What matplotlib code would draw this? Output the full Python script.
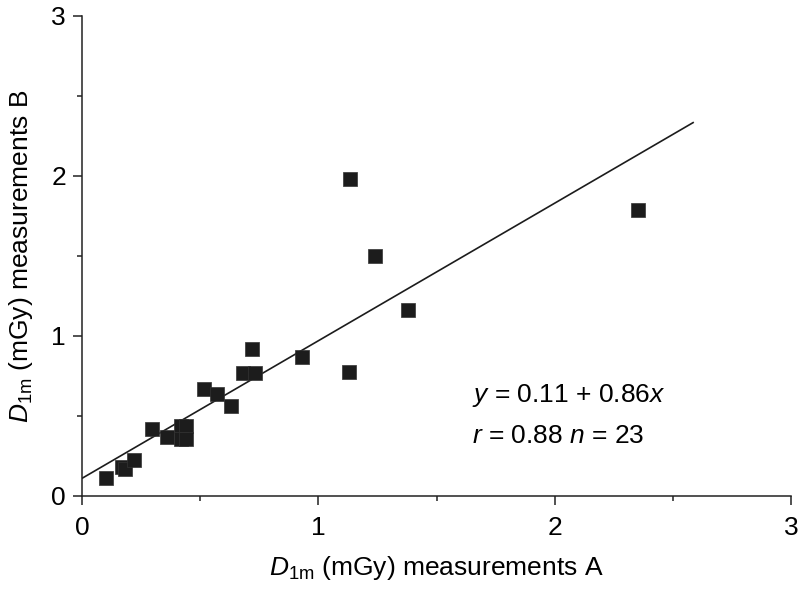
import matplotlib
matplotlib.use("Agg")
from matplotlib import pyplot as plt
from matplotlib.ticker import MultipleLocator

meas_a = [0.10, 0.17, 0.18, 0.22, 0.295, 0.36, 0.42, 0.44, 0.42, 0.44,
          0.515, 0.57, 0.63, 0.68, 0.72, 0.73, 0.93,
          1.135, 1.24, 1.38, 1.13, 2.35]
meas_b = [0.11, 0.18, 0.17, 0.225, 0.42, 0.37, 0.44, 0.44, 0.355, 0.355,
          0.67, 0.64, 0.565, 0.77, 0.92, 0.77, 0.87,
          1.98, 1.50, 1.16, 0.775, 1.79]

# regression y = 0.11 + 0.86x
intercept = 0.11
slope = 0.86
fit_x = [0.0, 2.585]

ticks = [0, 1, 2, 3]

plt.rcParams['font.family'] = ['Liberation Sans', 'DejaVu Sans']
plt.rcParams['mathtext.fontset'] = 'custom'
plt.rcParams['mathtext.rm'] = 'Liberation Sans'
plt.rcParams['mathtext.it'] = 'Liberation Sans:italic'

fig = plt.figure(figsize=(8, 5.89), dpi=100)
ax = fig.add_axes([0.1025, 0.158, 0.8865, 0.815])

dark = '#1c1c1c'

ax.scatter(meas_a, meas_b, marker='s', s=90, color=dark, edgecolors='#333333',
           linewidths=0.5, zorder=3)
ax.plot(fit_x, [intercept + slope * v for v in fit_x], color=dark, lw=1.2, zorder=2)

ax.set_xlim(0, 3)
ax.set_ylim(0, 3)
ax.set_xticks(ticks)
ax.set_yticks(ticks)
ax.xaxis.set_minor_locator(MultipleLocator(0.5))
ax.yaxis.set_minor_locator(MultipleLocator(0.5))

for side in ['top', 'right']:
    ax.spines[side].set_visible(False)
for side in ['left', 'bottom']:
    ax.spines[side].set_linewidth(1.1)
    ax.spines[side].set_color('#222222')

ax.tick_params(which='major', direction='out', length=6.5, width=1.1,
               labelsize=19, color='#222222', pad=5)
ax.tick_params(axis='x', which='major', pad=8)
ax.tick_params(which='minor', direction='out', length=3.6, width=1.1, color='#222222')

ax.set_xlabel(r'$D_{\rm 1m}$ (mGy) measurements A', fontsize=19, labelpad=10)
ax.set_ylabel(r'$D_{\rm 1m}$ (mGy) measurements B', fontsize=19, labelpad=12)

ax.text(1.65, 0.63, r'$y$ = 0.11 + 0.86$x$', fontsize=19, va='center', ha='left')
ax.text(1.65, 0.375, r'$r$ = 0.88 $n$ = 23', fontsize=19, va='center', ha='left')

fig.savefig('out.png', dpi=100)
